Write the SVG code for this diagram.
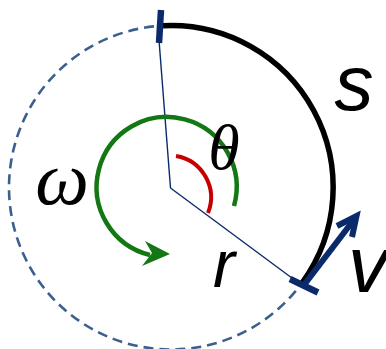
<svg xmlns="http://www.w3.org/2000/svg" width="386" height="349" viewBox="0 0 386 349">
<style>
.navy{stroke:#0b2a6c;fill:none}
.lbl{fill:#000}
.serif{font-family:"Liberation Serif","DejaVu Serif",serif;font-style:italic}
.sans{font-family:"Liberation Sans","DejaVu Sans",sans-serif;font-style:italic}
</style>
<rect width="386" height="349" fill="#fff"/>
<g id="connectors">
  <circle id="path-circle" cx="171" cy="187.5" r="162" fill="none" stroke="#3b5f8e" stroke-width="2.6" stroke-dasharray="10 6"/>
  <path id="arc-s" d="M163,25.7 A162 162 0 0 1 302,283" fill="none" stroke="#000" stroke-width="5.5"/>
  <path id="radius-top" class="navy" d="M170.5,188 L159,40" stroke-width="1.4"/>
  <path id="radius-r" class="navy" d="M170.5,188 L300,284" stroke-width="1.4"/>
  <path id="arc-theta" d="M176,156 A42 42 0 0 1 208,213" fill="none" stroke="#c40000" stroke-width="4"/>
  <path id="arc-omega" d="M234,206 A70 70 0 1 0 150,255" fill="none" stroke="#137713" stroke-width="4.5"/>
  <path id="omega-head" d="M170,254 L145,241 L152,253 L142,266 Z" fill="#137713"/>
  <path id="tick-top" class="navy" d="M161,10 L159,43" stroke-width="6.5"/>
  <path id="tick-bottom" class="navy" d="M290,279 L318,292.5" stroke-width="6.5"/>
  <path id="v-shaft" class="navy" d="M304,285 L356,217" stroke-width="6"/>
  <path id="v-head" class="navy" d="M337,226 L356.5,216 L352,237" stroke-width="6" stroke-linejoin="miter"/>
</g>
<g id="label-omega"><text class="lbl serif" x="62" y="204" font-size="76" text-anchor="middle">ω</text></g>
<g id="label-theta"><text class="lbl serif" x="224" y="169" font-size="64" text-anchor="middle">θ</text></g>
<g id="label-s"><text class="lbl sans" x="354" y="110" font-size="78" text-anchor="middle">s</text></g>
<g id="label-r"><text class="lbl sans" x="224" y="287" font-size="66" text-anchor="middle">r</text></g>
<g id="label-v"><text class="lbl sans" x="348" y="292" font-size="80">v</text></g>
</svg>
